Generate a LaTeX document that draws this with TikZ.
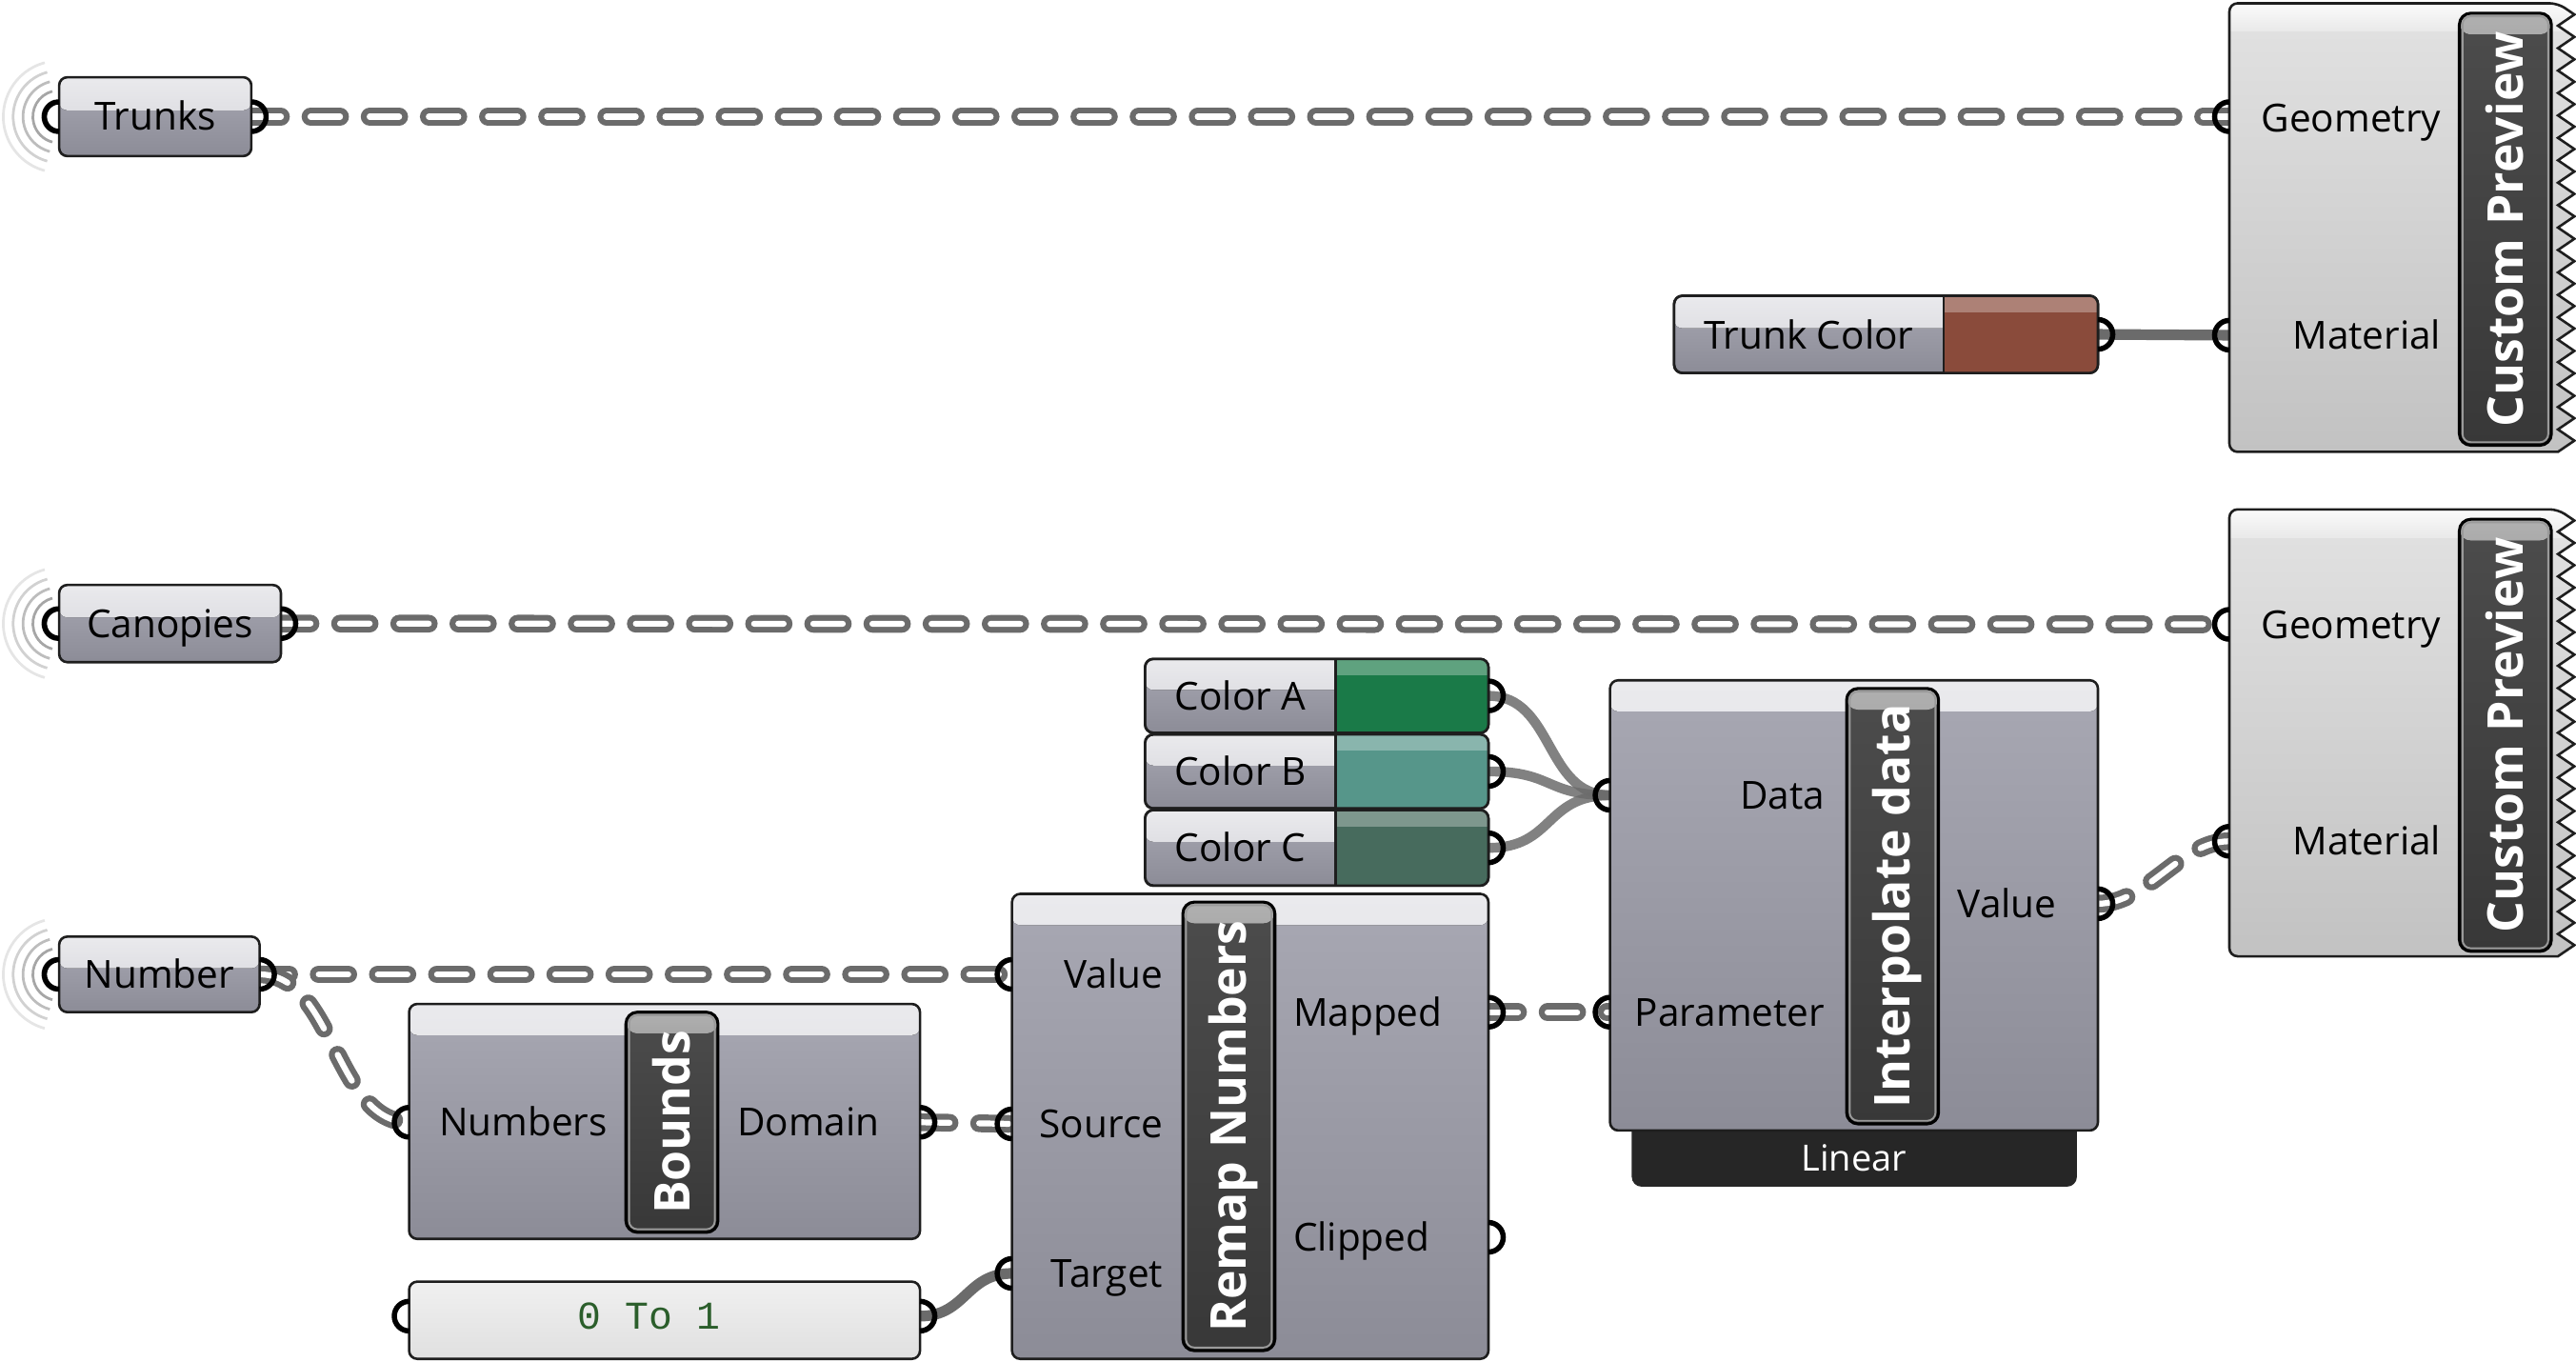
\documentclass[tikz,border=0pt]{standalone}
\usepackage{fontspec}
\setmainfont{Open Sans}
\newfontfamily\ghmono{Liberation Mono}
\usetikzlibrary{calc}
\pgfdeclarelayer{bg}
\pgfsetlayers{bg,main}

\definecolor{boxline}{HTML}{1E1E1E}
\definecolor{bodytop}{HTML}{A8A8B3}
\definecolor{bodybot}{HTML}{8C8C97}
\definecolor{bandtop}{HTML}{EAEAED}
\definecolor{bandbot}{HTML}{D2D2D8}
\definecolor{cptop}{HTML}{E2E2E2}
\definecolor{cpbot}{HTML}{C2C2C2}
\definecolor{cpbandtop}{HTML}{FBFBFB}
\definecolor{cpbandbot}{HTML}{E9E9E9}
\definecolor{captop}{HTML}{4C4C4C}
\definecolor{capbot}{HTML}{383838}
\definecolor{capbandtop}{HTML}{B0B0B0}
\definecolor{caprim}{HTML}{9A9A9A}
\definecolor{wire}{HTML}{6B6B6B}
\definecolor{linearbar}{HTML}{262626}
\definecolor{paneltop}{HTML}{F0F0F0}
\definecolor{panelbot}{HTML}{E0E0E0}
\definecolor{paneltext}{HTML}{2B5E2B}
\definecolor{trunkbrown}{HTML}{8A4B3B}
\definecolor{colA}{HTML}{1A7A48}
\definecolor{colB}{HTML}{56968A}
\definecolor{colC}{HTML}{476B5D}

\newcommand\ghlbl{\fontsize{23.5}{28}\selectfont}
\newcommand\ghbold{\fontsize{30}{34}\selectfont\bfseries}

\tikzset{
  ghbase/.style={draw=boxline, line width=1.5pt, rounded corners=5pt, inner sep=0pt, outer sep=0pt, anchor=north west},
  param/.style={ghbase, top color=bodytop, bottom color=bodybot, font=\ghlbl, text height=16.8pt, text depth=0pt,
    path picture={\fill[top color=bandtop, bottom color=bandbot] (path picture bounding box.north west) rectangle ($(path picture bounding box.north east)!0.42!(path picture bounding box.south east)$);}},
  comp/.style={ghbase, top color=bodytop, bottom color=bodybot,
    path picture={\fill[top color=bandtop, bottom color=bandbot] (path picture bounding box.north west) rectangle ([yshift=-19pt]path picture bounding box.north east);}},
  capsule/.style={draw=black, line width=1.8pt, rounded corners=7pt, inner sep=0pt, outer sep=0pt, anchor=north west, top color=captop, bottom color=capbot,
    path picture={\fill[top color=capbandtop, bottom color=captop] (path picture bounding box.north west) rectangle ([yshift=-13pt]path picture bounding box.north east);
      \draw[caprim, line width=1.1pt, rounded corners=5pt] ([shift={(1.9pt,-1.9pt)}]path picture bounding box.north west) rectangle ([shift={(-1.9pt,1.9pt)}]path picture bounding box.south east);}},
  captext/.style={rotate=90, text=white, font=\ghbold, inner sep=0pt, text height=21.4pt, text depth=0pt},
  panelbox/.style={ghbase, top color=paneltop, bottom color=panelbot},
  lblE/.style={anchor=east, font=\ghlbl, inner sep=0pt, text height=16.8pt, text depth=0pt},
  lblW/.style={anchor=west, font=\ghlbl, inner sep=0pt, text height=16.8pt, text depth=0pt},
  lblC/.style={anchor=center, font=\ghlbl, inner sep=0pt, text height=16.8pt, text depth=0pt},
  wired/.style={draw=wire, line width=3.6pt, double=white, double distance=3.6pt, dash pattern=on 18pt off 18pt, line cap=round},
  wires/.style={draw=wire, line width=6.5pt},
  wiresc/.style={draw=wire, line width=6pt, draw opacity=0.85},
  grip/.style={draw=black, line width=3.2pt},
}

\newcommand\gripout[1]{\draw[grip] ([yshift=9pt]#1) arc[start angle=90, end angle=-90, radius=9pt];}
\newcommand\gripin[1]{\draw[grip] ([yshift=9pt]#1) arc[start angle=90, end angle=270, radius=9pt];}
\newcommand\ghripple[1]{%
  \foreach \r/\c in {10/45,16/35,22/26,28/18,34/10}{%
    \draw[black!\c, line width=1.6pt] ([shift={(105:\r pt)}]#1) arc[start angle=105, end angle=255, radius=\r pt];}}
\newcommand\ghswatch[6]{%
  \begin{scope}
    \clip[rounded corners=5pt] (#1,#2) rectangle (#4,#5);
    \fill[#6] (#3,#2) rectangle (#4,#5);
    \fill[white, opacity=0.3] (#3,#2) rectangle (#4,{#2+0.22*(#5-#2)});
  \end{scope}
  \draw[boxline, line width=1.5pt, rounded corners=5pt] (#1,#2) rectangle (#4,#5);
  \draw[boxline, line width=1.5pt] (#3,#2) -- (#3,#5);}
\newcommand\ghpreview[2]{%
  \begin{scope}
    \clip (1557,#1) \foreach \i in {1,...,20}{ -- (1567,{#1+(\i-0.5)*(#2-#1)/20}) -- (1557,{#1+\i*(#2-#1)/20}) }
       [rounded corners=5pt] -- (1357,#2) -- (1357,#1) -- cycle;
    \shade[top color=cptop, bottom color=cpbot] (1350,#1) rectangle (1570,#2);
    \shade[top color=cpbandtop, bottom color=cpbandbot] (1350,#1) rectangle (1570,{#1+17});
  \end{scope}
  \draw[boxline, line width=1.5pt] (1557,#1) \foreach \i in {1,...,20}{ -- (1567,{#1+(\i-0.5)*(#2-#1)/20}) -- (1557,{#1+\i*(#2-#1)/20}) }
       [rounded corners=5pt] -- (1357,#2) -- (1357,#1) -- cycle;}

\begin{document}
\begin{tikzpicture}[x=1pt, y=-1pt]
\useasboundingbox (0,0) rectangle (1568,828.4);

% ---------- Custom Preview components ----------
\ghpreview{2}{275}
\ghpreview{310}{582}
\coordinate (cp1-geo) at (1357,71);
\coordinate (cp1-mat) at (1357,204);
\coordinate (cp2-geo) at (1357,380);
\coordinate (cp2-mat) at (1357,512);
\node[capsule, minimum width=56pt, minimum height=263pt] (cp1cap) at (1497,8) {};
\node[capsule, minimum width=56pt, minimum height=263pt] (cp2cap) at (1497,316) {};
\node[captext] (cp1t) at (cp1cap.center) {Custom Preview};
\node[captext] (cp2t) at (cp2cap.center) {Custom Preview};
\node[lblE] (cp1gl) at (1486,72) {Geometry};
\node[lblE] (cp1ml) at (1486,204) {Material};
\node[lblE] (cp2gl) at (1486,380) {Geometry};
\node[lblE] (cp2ml) at (1486,512) {Material};

% ---------- parameters ----------
\node[param, minimum width=117pt, minimum height=48pt] (trunks) at (36,47) {Trunks};
\node[param, minimum width=135pt, minimum height=47pt] (canopies) at (36,356) {Canopies};
\node[param, minimum width=122pt, minimum height=46pt] (number) at (36,570) {Number};

% ---------- colour swatches ----------
\node[param, minimum width=258pt, minimum height=47pt] (trunkcolor) at (1019,180) {};
\ghswatch{1019}{180}{1183}{1277}{227}{trunkbrown}
\node[lblC] (tcl) at (1101,204) {Trunk Color};

\node[param, minimum width=209pt, minimum height=45pt] (colora) at (697,401) {};
\ghswatch{697}{401}{813}{906}{446}{colA}
\node[lblC] (cal) at (755,423.5) {Color A};
\node[param, minimum width=209pt, minimum height=45pt] (colorb) at (697,447) {};
\ghswatch{697}{447}{813}{906}{492}{colB}
\node[lblC] (cbl) at (755,469.5) {Color B};
\node[param, minimum width=209pt, minimum height=46pt] (colorc) at (697,493) {};
\ghswatch{697}{493}{813}{906}{539}{colC}
\node[lblC] (ccl) at (755,516) {Color C};

% ---------- Interpolate data ----------
\node[fill=linearbar, rounded corners=6pt, anchor=north west, inner sep=0pt, minimum width=271pt, minimum height=48pt] (linearbar) at (993,674) {};
\node[lblC, text=white, font=\fontsize{22}{26}\selectfont, text height=15.7pt] (linl) at (1128.5,705) {Linear};
\node[comp, minimum width=297pt, minimum height=274pt] (interp) at (980,414) {};
\node[capsule, minimum width=56pt, minimum height=265pt] (interpcap) at (1124,419) {};
\node[captext] (interpt) at (interpcap.center) {Interpolate data};
\coordinate (int-data) at (980,484);
\coordinate (int-par) at (980,616);
\coordinate (int-val) at (1277,550);
\node[lblE] (intdl) at (1111,484) {Data};
\node[lblE] (intpl) at (1111,616) {Parameter};
\node[lblE] (intvl) at (1252,550) {Value};

% ---------- Bounds ----------
\node[comp, minimum width=311pt, minimum height=143pt] (bounds) at (249,611) {};
\node[capsule, minimum width=56pt, minimum height=134pt] (boundscap) at (381,616) {};
\node[captext] (boundst) at (boundscap.center) {Bounds};
\coordinate (bd-in) at (249,683);
\coordinate (bd-out) at (560,683);
\node[lblC] (bdnl) at (318.5,683) {Numbers};
\node[lblC] (bddl) at (492,683) {Domain};

% ---------- Panel ----------
\node[panelbox, minimum width=311pt, minimum height=47pt] (panel) at (249,780) {};
\coordinate (pn-in) at (249,801);
\coordinate (pn-out) at (560,801);
\node[font=\ghmono\fontsize{24}{28}\selectfont, text=paneltext, inner sep=0pt] (pnl) at (395,801) {0 To 1};

% ---------- Remap Numbers ----------
\node[comp, minimum width=290pt, minimum height=283pt] (remap) at (616,544) {};
\node[capsule, minimum width=56pt, minimum height=273pt] (remapcap) at (720,549) {};
\node[captext] (remapt) at (remapcap.center) {Remap Numbers};
\coordinate (rm-val) at (616,593);
\coordinate (rm-src) at (616,684);
\coordinate (rm-tgt) at (616,775);
\coordinate (rm-map) at (906,616);
\coordinate (rm-clip) at (906,753);
\node[lblE] (rmvl) at (708,593) {Value};
\node[lblE] (rmsl) at (708,684) {Source};
\node[lblE] (rmtl) at (708,775) {Target};
\node[lblW] (rmml) at (787,616) {Mapped};
\node[lblW] (rmcl) at (787,753) {Clipped};

% ---------- wires and ripples (behind) ----------
\begin{pgfonlayer}{bg}
  \ghripple{trunks.west}
  \ghripple{canopies.west}
  \ghripple{number.west}
  \draw[wired] (trunks.east) -- (cp1-geo);
  \draw[wires] (trunkcolor.east) -- (cp1-mat);
  \draw[wired] (canopies.east) -- (cp2-geo);
  \draw[wiresc] (colora.east) .. controls +(40,0) and +(-40,0) .. (int-data);
  \draw[wiresc] (colorb.east) .. controls +(40,0) and +(-40,0) .. (int-data);
  \draw[wiresc] (colorc.east) .. controls +(40,0) and +(-40,0) .. (int-data);
  \draw[wired] (int-val) .. controls +(30,0) and +(-30,0) .. (cp2-mat);
  \draw[wired] (number.east) -- (rm-val);
  \draw[wired] (number.east) .. controls +(45,0) and +(-45,0) .. (bd-in);
  \draw[wired] (bd-out) -- (rm-src);
  \draw[wires] (pn-out) .. controls +(28,0) and +(-28,0) .. (rm-tgt);
  \draw[wired] (rm-map) -- (int-par);
\end{pgfonlayer}

% ---------- grips ----------
\gripin{trunks.west}  \gripout{trunks.east}
\gripin{canopies.west} \gripout{canopies.east}
\gripin{number.west}  \gripout{number.east}
\gripout{trunkcolor.east}
\gripout{colora.east} \gripout{colorb.east} \gripout{colorc.east}
\gripin{cp1-geo} \gripin{cp1-mat} \gripin{cp2-geo} \gripin{cp2-mat}
\gripin{int-data} \gripin{int-par} \gripout{int-val}
\gripin{bd-in} \gripout{bd-out}
\gripin{pn-in} \gripout{pn-out}
\gripin{rm-val} \gripin{rm-src} \gripin{rm-tgt} \gripout{rm-map} \gripout{rm-clip}
\end{tikzpicture}
\end{document}
